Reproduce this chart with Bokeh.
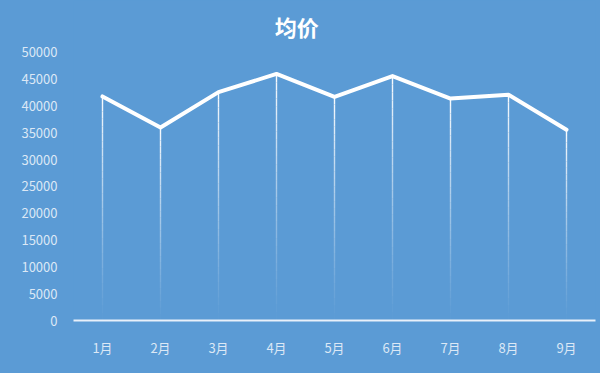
from bokeh.plotting import figure
from bokeh.models import ColumnDataSource, Range1d, FactorRange, FixedTicker
from bokeh.core.properties import value
from bokeh.embed import file_html
from bokeh.resources import INLINE

months = ["1月", "2月", "3月", "4月", "5月", "6月", "7月", "8月", "9月"]
avg_price = [41800, 36000, 42600, 46000, 41700, 45600, 41400, 42100, 35600]
y_ticks = [0, 5000, 10000, 15000, 20000, 25000, 30000, 35000, 40000, 45000, 50000]
title_text = "均价"

BG = "#5B9BD5"
LABEL = "#DCE8F5"
FONT = "Noto Sans CJK SC"

# the frame reaches the top of the canvas; ticks stop at 50000
p = figure(width=600, height=373, x_range=FactorRange(*months),
           y_range=Range1d(0, 59700), output_backend="svg",
           toolbar_location=None, min_border_left=73, min_border_right=5,
           min_border_top=0, min_border_bottom=53)
p.styles = {"background-color": BG}
p.background_fill_color = BG
p.border_fill_color = None
p.outline_line_color = None
p.xgrid.grid_line_color = None
p.ygrid.grid_line_color = None

# chart title, centred on the canvas above the data area
p.text(x=[3.85], y=[54950], text=[title_text], text_align="center",
       text_baseline="middle", text_color="white", text_font=value(FONT),
       text_font_size="22px", text_font_style="bold")

# fading drop lines from each point to the baseline
n = 30
x0s, y0s, y1s, alphas = [], [], [], []
for m, v in zip(months, avg_price):
    for i in range(n):
        a = v * i / n
        b = v * (i + 1) / n
        x0s.append(m)
        y0s.append(a)
        y1s.append(b)
        alphas.append(0.95 * ((i + 1) / n) ** 1.2)
seg = ColumnDataSource(dict(x=x0s, y0=y0s, y1=y1s, a=alphas))
p.segment(x0="x", y0="y0", x1="x", y1="y1", source=seg, line_color="white",
          line_alpha="a", line_width=1.4)

src = ColumnDataSource(dict(m=months, v=avg_price))
p.line(x="m", y="v", source=src, line_color="white", line_width=4,
       line_join="round", line_cap="round")

p.yaxis.ticker = FixedTicker(ticks=y_ticks)
p.yaxis.axis_line_color = None
p.yaxis.major_tick_line_color = None
p.yaxis.minor_tick_line_color = None
p.yaxis.major_label_text_color = LABEL
p.yaxis.major_label_text_font = FONT
p.yaxis.major_label_text_font_size = "13px"
p.yaxis.major_label_standoff = 10

p.xaxis.axis_line_color = "#E8F0FA"
p.xaxis.axis_line_width = 2
p.xaxis.major_tick_line_color = None
p.xaxis.minor_tick_line_color = None
p.xaxis.major_label_text_color = LABEL
p.xaxis.major_label_text_font = FONT
p.xaxis.major_label_text_font_size = "13px"
p.xaxis.major_label_standoff = 11

open("out.html", "w").write(file_html(p, INLINE))
